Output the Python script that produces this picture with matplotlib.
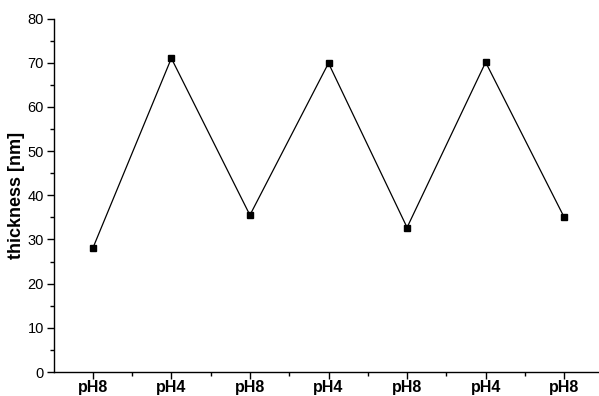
import matplotlib
matplotlib.use("Agg")
import matplotlib.pyplot as plt
from matplotlib.ticker import MultipleLocator, FixedLocator

plt.rcParams['font.family'] = ['Liberation Sans', 'DejaVu Sans']

categories = ["pH8", "pH4", "pH8", "pH4", "pH8", "pH4", "pH8"]
thickness = [28.0, 71.0, 35.5, 69.9, 32.7, 70.1, 35.0]

W, H = 599, 396
fig = plt.figure(figsize=(W/100, H/100), dpi=100)
x0, x1 = 53.5, 603.5
y0, y1 = 372, 18.5
ax = fig.add_axes([x0/W, 1 - y0/H, (x1 - x0)/W, (y0 - y1)/H])

pos = list(range(1, len(categories) + 1))
ax.plot(pos, thickness, color='black', lw=0.9, marker='s', ms=5, mfc='black', mec='black')

ax.set_xlim(0.5, 7.5)
ax.set_ylim(0, 80)
ax.set_xticks(pos)
ax.set_xticklabels(categories, fontweight='bold', fontsize=11.5)
ax.xaxis.set_minor_locator(FixedLocator([p + 0.5 for p in pos]))
ax.yaxis.set_major_locator(MultipleLocator(10))
ax.yaxis.set_minor_locator(MultipleLocator(5))
ax.tick_params(axis='both', which='major', direction='out', length=5, width=1)
ax.tick_params(axis='both', which='minor', direction='out', length=3, width=1)
ax.tick_params(axis='x', pad=1, labelsize=11.5)
ax.tick_params(axis='y', pad=2, labelsize=10.5)
ax.set_ylabel('thickness [nm]', fontweight='bold', fontsize=13)
ax.yaxis.set_label_coords((25.5 - x0) / (x1 - x0), 0.5)
for s in ['top', 'right']:
    ax.spines[s].set_visible(False)
for s in ['left', 'bottom']:
    ax.spines[s].set_linewidth(1)

fig.savefig('out.png', dpi=100)
